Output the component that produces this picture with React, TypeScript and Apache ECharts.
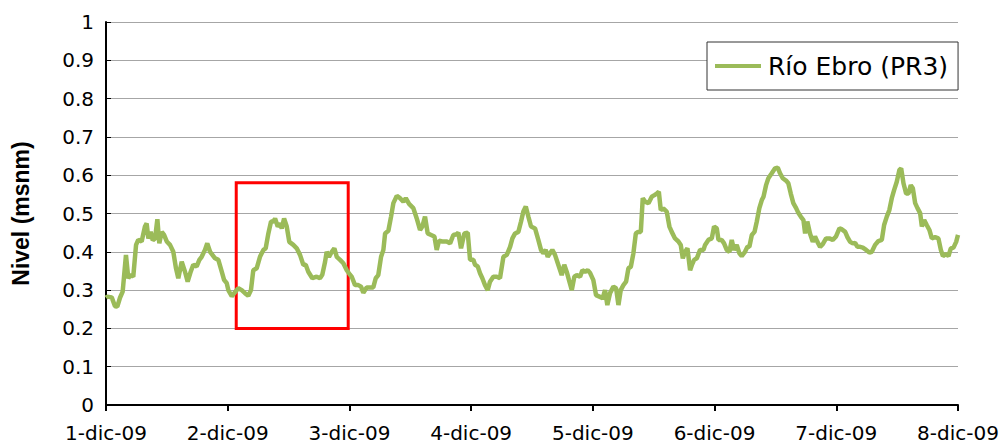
import React, { useEffect, useRef } from "react";
import * as echarts from "echarts";

// Time in days since 1-dic-09 00:00
const dias = [
  0, 0.011, 0.047, 0.074, 0.093, 0.115, 0.137, 0.164, 0.183, 0.203, 0.224, 0.247, 0.265, 0.293, 0.32, 0.334, 0.348,
  0.367, 0.384, 0.403, 0.422, 0.438, 0.458, 0.477, 0.499, 0.526, 0.553, 0.575, 0.594, 0.622, 0.649, 0.671, 0.696,
  0.717, 0.745, 0.767, 0.786, 0.813, 0.832, 0.855, 0.896, 0.923, 0.951, 0.97, 0.992,
  1.005, 1.033, 1.087, 1.115, 1.142, 1.169, 1.191, 1.21, 1.238, 1.265, 1.293, 1.312, 1.334, 1.356, 1.375, 1.389,
  1.411, 1.43, 1.444, 1.463, 1.485, 1.506, 1.539, 1.567, 1.594, 1.621, 1.641, 1.662, 1.695, 1.731, 1.758, 1.777,
  1.8, 1.813, 1.832, 1.855, 1.876, 1.896, 1.923, 1.95, 1.978,
  2.005, 2.019, 2.046, 2.073, 2.095, 2.114, 2.142, 2.169, 2.196, 2.216, 2.237, 2.26, 2.279, 2.293, 2.32, 2.342,
  2.361, 2.389, 2.416, 2.443, 2.463, 2.49, 2.525, 2.553, 2.58, 2.599, 2.621, 2.643, 2.671, 2.698, 2.717, 2.736,
  2.763, 2.8, 2.827, 2.854, 2.882, 2.895, 2.917, 2.944, 2.972,
  2.991, 3.018, 3.032, 3.054, 3.073, 3.092, 3.114, 3.136, 3.155, 3.182, 3.21, 3.237, 3.265, 3.293, 3.32, 3.339,
  3.361, 3.388, 3.41, 3.429, 3.449, 3.47, 3.492, 3.525, 3.552, 3.574, 3.593, 3.613, 3.629, 3.648, 3.667, 3.689,
  3.716, 3.744, 3.765, 3.785, 3.804, 3.827, 3.848, 3.868, 3.895, 3.914, 3.936, 3.958, 3.977,
  4.004, 4.026, 4.04, 4.054, 4.081, 4.1, 4.119, 4.141, 4.169, 4.191, 4.21, 4.229, 4.251, 4.273, 4.292, 4.312,
  4.333, 4.353, 4.372, 4.394, 4.41, 4.429, 4.457, 4.484, 4.506, 4.525, 4.542, 4.558, 4.579, 4.607, 4.629, 4.648,
  4.675, 4.703, 4.722, 4.739, 4.758, 4.777, 4.799, 4.813, 4.832, 4.854, 4.881, 4.909, 4.922, 4.949, 4.977, 4.996,
  5.018, 5.032, 5.059, 5.078, 5.1, 5.122, 5.141, 5.16, 5.182, 5.204, 5.223, 5.25, 5.27, 5.286, 5.306, 5.328,
  5.347, 5.368, 5.388, 5.402, 5.423, 5.442, 5.47, 5.497, 5.519, 5.538, 5.56, 5.587, 5.606, 5.626, 5.647, 5.67,
  5.689, 5.708, 5.73, 5.744, 5.762, 5.784, 5.807, 5.825, 5.845, 5.867, 5.889, 5.916, 5.943, 5.971, 5.998,
  6.026, 6.045, 6.073, 6.092, 6.114, 6.136, 6.155, 6.174, 6.196, 6.218, 6.245, 6.272, 6.292, 6.319, 6.346, 6.374,
  6.393, 6.415, 6.436, 6.456, 6.475, 6.497, 6.519, 6.533, 6.552, 6.574, 6.593, 6.612, 6.629, 6.648, 6.667, 6.689,
  6.703, 6.722, 6.743, 6.765, 6.785, 6.812, 6.839, 6.859, 6.876, 6.9, 6.922, 6.941, 6.963, 6.985, 7.0,
];

// Water level (m.s.n.m.)
const nivel = [
  0.28, 0.283, 0.281, 0.258, 0.257, 0.28, 0.296, 0.392, 0.331, 0.34, 0.335, 0.418, 0.431, 0.427, 0.466, 0.474, 0.435,
  0.452, 0.43, 0.435, 0.485, 0.422, 0.452, 0.444, 0.427, 0.418, 0.4, 0.357, 0.331, 0.374, 0.348, 0.322, 0.348,
  0.366, 0.362, 0.379, 0.387, 0.405, 0.422, 0.4, 0.383, 0.379, 0.348, 0.327, 0.318,
  0.3, 0.284, 0.305, 0.3, 0.292, 0.285, 0.3, 0.352, 0.357, 0.387, 0.405, 0.409, 0.448, 0.479, 0.479, 0.487,
  0.466, 0.474, 0.461, 0.487, 0.466, 0.426, 0.418, 0.409, 0.392, 0.366, 0.366, 0.348, 0.331, 0.335, 0.331, 0.34,
  0.374, 0.4, 0.387, 0.4, 0.409, 0.387, 0.379, 0.37, 0.352,
  0.34, 0.335, 0.313, 0.313, 0.309, 0.293, 0.307, 0.307, 0.307, 0.331, 0.339, 0.387, 0.405, 0.448, 0.455, 0.492,
  0.527, 0.546, 0.54, 0.531, 0.54, 0.525, 0.514, 0.487, 0.457, 0.466, 0.492, 0.448, 0.444, 0.44, 0.405, 0.429,
  0.427, 0.427, 0.422, 0.444, 0.446, 0.45, 0.409, 0.448, 0.45,
  0.379, 0.379, 0.366, 0.362, 0.344, 0.331, 0.313, 0.3, 0.322, 0.335, 0.335, 0.331, 0.387, 0.392, 0.413, 0.435,
  0.448, 0.452, 0.479, 0.505, 0.518, 0.492, 0.466, 0.461, 0.431, 0.405, 0.396, 0.405, 0.387, 0.396, 0.405, 0.392,
  0.366, 0.339, 0.366, 0.348, 0.326, 0.3, 0.335, 0.339, 0.335, 0.352, 0.348, 0.352, 0.345,
  0.326, 0.287, 0.285, 0.283, 0.279, 0.3, 0.261, 0.292, 0.309, 0.305, 0.261, 0.3, 0.313, 0.322, 0.357, 0.361,
  0.396, 0.448, 0.452, 0.452, 0.54, 0.531, 0.527, 0.544, 0.548, 0.552, 0.557, 0.509, 0.513, 0.505, 0.466, 0.452,
  0.435, 0.427, 0.418, 0.383, 0.4, 0.409, 0.352, 0.365, 0.379, 0.383, 0.405, 0.405, 0.418, 0.431, 0.435, 0.466,
  0.461, 0.431, 0.431, 0.422, 0.405, 0.4, 0.431, 0.405, 0.418, 0.396, 0.389, 0.4, 0.413, 0.413, 0.444, 0.452,
  0.479, 0.514, 0.535, 0.544, 0.574, 0.592, 0.605, 0.618, 0.62, 0.605, 0.592, 0.586, 0.579, 0.552, 0.527, 0.514,
  0.501, 0.492, 0.483, 0.448, 0.479, 0.448, 0.426, 0.44, 0.426, 0.413, 0.42, 0.435, 0.435, 0.431, 0.44,
  0.461, 0.459, 0.452, 0.438, 0.426, 0.422, 0.423, 0.413, 0.413, 0.411, 0.405, 0.398, 0.4, 0.418, 0.428, 0.431,
  0.47, 0.492, 0.509, 0.54, 0.561, 0.583, 0.614, 0.618, 0.579, 0.552, 0.552, 0.574, 0.566, 0.527, 0.514, 0.501,
  0.466, 0.483, 0.47, 0.457, 0.435, 0.438, 0.435, 0.405, 0.389, 0.394, 0.389, 0.409, 0.411, 0.426, 0.444,
];

const dayLabels = ["1-dic-09", "2-dic-09", "3-dic-09", "4-dic-09", "5-dic-09", "6-dic-09", "7-dic-09", "8-dic-09"];
const seriesName = "Río Ebro (PR3)";
const yAxisTitle = "Nivel (msnm)";
// highlighted window: [dayStart, dayEnd], [levelLow, levelHigh]
const highlightDays = [1.07, 1.99];
const highlightLevels = [0.2, 0.58];

export default function App() {
  const ref = useRef<HTMLDivElement>(null);
  useEffect(() => {
    if (!ref.current) return;
    const chart = echarts.init(ref.current, undefined, { renderer: "svg" });
    const data = dias.map((d, i) => [d, nivel[i]]);
    chart.setOption({
      animation: false,
      backgroundColor: "#ffffff",
      grid: { left: 106, right: 47, top: 22, bottom: 41, containLabel: false, outerBoundsMode: "none" },
      legend: {
        left: 707,
        top: 42,
        data: [{ name: seriesName, icon: "rect" }],
        backgroundColor: "#ffffff",
        borderColor: "#333333",
        borderWidth: 1,
        borderRadius: 0,
        padding: [9, 10, 9, 8],
        itemWidth: 46,
        itemHeight: 4,
        itemGap: 0,
        itemStyle: { color: "#9bbb59" },
        textStyle: { fontFamily: "DejaVu Sans", fontSize: 25, color: "#000", lineHeight: 30, padding: [0, 0, 0, 2] },
      },
      xAxis: {
        type: "value",
        min: 0,
        max: 7,
        interval: 1,
        splitLine: { show: false },
        axisLine: { lineStyle: { color: "#000", width: 2 } },
        axisTick: { show: true, length: 6, lineStyle: { color: "#000", width: 2 } },
        axisLabel: {
          margin: 18,
          fontFamily: "DejaVu Sans",
          fontSize: 20,
          lineHeight: 20,
          color: "#000",
          formatter: (v: number) => dayLabels[Math.round(v)] ?? "",
        },
      },
      yAxis: {
        type: "value",
        min: 0,
        max: 1,
        interval: 0.1,
        name: yAxisTitle,
        nameLocation: "middle",
        nameGap: 74,
        nameRotate: 90,
        nameTextStyle: {
          fontFamily: "Liberation Sans Narrow, Liberation Sans",
          fontWeight: "bold",
          fontSize: 23,
          color: "#000",
        },
        axisLine: { show: true, lineStyle: { color: "#000", width: 2 } },
        axisTick: { show: true, inside: true, length: 5, lineStyle: { color: "#000", width: 1 } },
        splitLine: { show: true, lineStyle: { color: "#a6a6a6", width: 1 } },
        axisLabel: {
          margin: 12,
          fontFamily: "DejaVu Sans",
          fontSize: 20,
          color: "#000",
          formatter: (v: number) => String(parseFloat(v.toFixed(1))),
        },
      },
      series: [
        {
          name: seriesName,
          type: "line",
          data,
          symbol: "none",
          smooth: false,
          lineStyle: { color: "#9bbb59", width: 4.5 },
          itemStyle: { color: "#9bbb59" },
          markArea: {
            silent: true,
            itemStyle: { color: "rgba(0,0,0,0)", borderColor: "#ff0000", borderWidth: 3 },
            data: [
              [
                { coord: [highlightDays[0], highlightLevels[1]] },
                { coord: [highlightDays[1], highlightLevels[0]] },
              ],
            ],
          },
        },
      ],
    });
    return () => chart.dispose();
  }, []);
  return (
    <div
      ref={ref}
      style={{ position: "fixed", left: 0, top: 0, width: 1005, height: 446, background: "#fff" }}
    />
  );
}
